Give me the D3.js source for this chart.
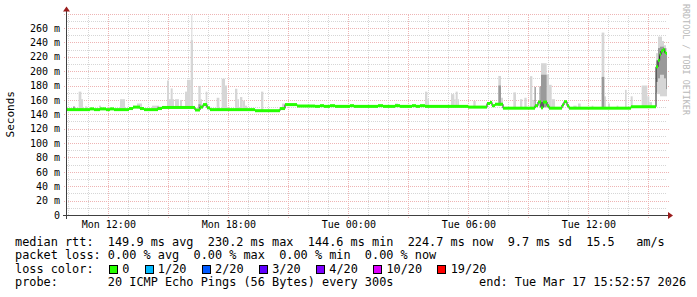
<!DOCTYPE html>
<html>
<head>
<meta charset="utf-8">
<script src="https://cdn.jsdelivr.net/npm/d3@7/dist/d3.min.js"></script>
<style>
	body { margin: 0; background: #fff; }
	svg text { font-family: "DejaVu Sans Mono", monospace; }
</style>
</head>
<body>
<svg></svg>
<script>
// time range of the graph
const startTime = '16 09:56';
const endTime = '17 15:56';

// median rtt (ms), step series
const medianTimes = [
	'16 09:56', '16 11:05', '16 11:17', '16 11:35', '16 11:53', '16 12:05', '16 12:17', '16 13:02',
	'16 13:14', '16 13:35', '16 13:47', '16 14:29', '16 14:41', '16 16:20', '16 16:35', '16 16:44',
	'16 16:56', '16 17:05', '16 19:20', '16 20:35', '16 20:50', '16 21:26', '16 22:20', '16 22:35',
	'16 22:47', '16 23:05', '16 23:20', '17 00:05', '17 00:17', '17 01:29', '17 01:44', '17 02:20',
	'17 02:35', '17 03:11', '17 03:23', '17 03:35', '17 03:50', '17 05:59', '17 06:56', '17 07:05',
	'17 07:11', '17 07:20', '17 07:44', '17 09:20', '17 09:29', '17 09:38', '17 09:44', '17 09:56',
	'17 10:02', '17 10:41', '17 10:47', '17 10:56', '17 11:02', '17 14:08', '17 15:23', '17 15:29',
	'17 15:34', '17 15:38', '17 15:44', '17 15:49', '17 15:53'
];
const medianValues = [
	146.5, 147.5, 146.5, 147.5, 146.5, 147.5, 146.5, 148,
	150, 148, 146.5, 148, 149.5, 146, 150, 153.5,
	149, 146.5, 145, 148, 153.5, 151.5, 151, 152,
	151, 152, 151, 152, 151, 152, 151, 152,
	151, 152, 151, 152, 151, 150, 155, 156.5,
	152, 154, 148.5, 152, 157, 149, 157, 152,
	148.5, 153, 157.5, 152, 148.5, 150.5, 206, 215,
	223, 228, 230, 226, 224.7
];

// light smoke: spread of the pings (start, end, lowest, highest)
const smokeStart = [
	'16 10:31', '16 10:38', '16 10:50', '16 11:32', '16 12:35', '16 13:26', '16 14:11', '16 14:56',
	'16 15:02', '16 15:07', '16 15:20', '16 15:35', '16 15:50', '16 15:56', '16 16:00', '16 16:07',
	'16 16:09', '16 16:30', '16 16:35', '16 16:52', '16 17:25', '16 17:40', '16 17:50', '16 18:20',
	'16 18:27', '16 18:35', '16 18:42', '16 18:50', '16 19:38', '16 20:41', '16 23:33', '17 02:20',
	'17 03:50', '17 03:57', '17 05:08', '17 05:18', '17 05:22', '17 05:28', '17 06:15', '17 07:30',
	'17 07:38', '17 08:15', '17 08:35', '17 08:48', '17 09:05', '17 09:12', '17 09:38', '17 09:55',
	'17 10:02', '17 10:10', '17 11:15', '17 11:29', '17 12:10', '17 12:40', '17 12:48', '17 12:59',
	'17 13:25', '17 13:50', '17 14:07', '17 14:40', '17 14:57', '17 15:03', '17 15:23', '17 15:29',
	'17 15:35', '17 15:41', '17 15:47', '17 15:53'
];
const smokeEnd = [
	'16 10:39', '16 10:44', '16 10:56', '16 11:38', '16 12:50', '16 13:41', '16 14:32', '16 15:02',
	'16 15:17', '16 15:13', '16 15:32', '16 15:41', '16 15:56', '16 16:05', '16 16:07', '16 16:14',
	'16 16:12', '16 16:37', '16 16:41', '16 16:57', '16 17:33', '16 17:50', '16 17:56', '16 18:27',
	'16 18:32', '16 18:42', '16 18:50', '16 18:56', '16 19:45', '16 20:50', '16 23:40', '17 02:29',
	'17 03:57', '17 04:02', '17 05:18', '17 05:22', '17 05:28', '17 05:32', '17 06:22', '17 07:38',
	'17 07:44', '17 08:23', '17 08:42', '17 08:55', '17 09:12', '17 09:17', '17 09:55', '17 10:02',
	'17 10:10', '17 10:20', '17 11:25', '17 11:37', '17 12:15', '17 12:48', '17 12:53', '17 13:05',
	'17 13:30', '17 13:55', '17 14:13', '17 14:57', '17 15:03', '17 15:11', '17 15:29', '17 15:35',
	'17 15:41', '17 15:47', '17 15:53', '17 15:56'
];
const smokeLo = [
	147, 147, 147, 147, 147, 148, 147, 149,
	149, 149, 149, 149, 149, 149, 149, 149,
	149, 148, 150, 150, 147, 147, 147, 147,
	147, 147, 147, 147, 145, 148, 151, 151,
	151, 151, 151, 151, 151, 151, 150, 152,
	152, 148.5, 148.5, 148.5, 148.5, 148.5, 149, 149,
	148.5, 148.5, 148.5, 148.5, 148.5, 148.5, 148.5, 148.5,
	148.5, 148.5, 150, 150, 150, 150, 170, 168,
	165, 165, 165, 165
];
const smokeHi = [
	171.5, 161, 151, 152, 161, 155, 152, 187,
	161, 176, 161, 160, 171.5, 188, 187.7, 243,
	278, 179.4, 161, 171.5, 163, 189.5, 180, 175.5,
	161, 164, 159, 152, 171.5, 155, 153, 155,
	171.5, 161, 168, 161, 171.5, 161, 158.5, 193.3,
	163, 170.5, 161, 163, 193, 160, 211, 195.5,
	181, 161, 152, 155, 152, 253.6, 165, 155,
	152, 174, 165, 180, 165, 157, 225, 248,
	248, 242, 236, 232
];

// dense smoke, where many pings pile up (start, end, low, high)
const denseStart = ['16 10:14', '16 14:26', '16 16:30', '17 07:30', '17 09:18', '17 09:33', '17 09:38', '17 12:40',
	'17 15:23', '17 15:29', '17 15:35', '17 15:41', '17 15:47', '17 15:53'];
const denseEnd = ['16 10:20', '16 14:41', '16 16:37', '17 07:38', '17 09:23', '17 09:38', '17 09:55', '17 12:48',
	'17 15:29', '17 15:35', '17 15:41', '17 15:47', '17 15:53', '17 15:56'];
const denseLo = [147, 147, 148, 152, 150, 150, 150, 148.5, 185, 190, 195, 195, 190, 175];
const denseHi = [151, 150.5, 154, 180, 178, 178.6, 195, 192, 215, 232, 234, 234, 232, 225];

// legend and summary
const lossLabels = ['0', '1/20', '2/20', '3/20', '4/20', '10/20', '19/20'];
const lossColors = ['#26ff00', '#00b8ff', '#0059ff', '#5e00ff', '#7e00ff', '#dd00ff', '#ff0000'];
const summaryLines = [
	'median rtt:  149.9 ms avg  230.2 ms max  144.6 ms min  224.7 ms now  9.7 ms sd  15.5   am/s',
	'packet loss: 0.00 % avg  0.00 % max  0.00 % min  0.00 % now',
	'loss color:',
	'probe:       20 ICMP Echo Pings (56 Bytes) every 300s            end: Tue Mar 17 15:52:57 2026'
];

const parse = d3.timeParse('%Y-%m-%d %H:%M');
const t = s => parse('2026-03-' + s);

const width = 697;
const height = 297;
const plotLeft = 67, plotRight = 667, plotTop = 13.6, plotBottom = 215;

const svg = d3.select('svg')
	.attr('width', width)
	.attr('height', height);

const xScale = d3.scaleTime()
	.domain([t(startTime), t(endTime)])
	.range([plotLeft, plotRight]);

const yScale = d3.scaleLinear()
	.domain([0, 280])
	.range([plotBottom, plotTop]);

const px = v => Math.round(v) + 0.5;

// grid
const grid = svg.append('g').attr('shape-rendering', 'crispEdges');
const minorY = yScale.ticks(28).filter(d => d % 20 !== 0);
const majorY = yScale.ticks(14).filter(d => d > 0);
const minorX = xScale.ticks(d3.timeHour.every(1)).filter(d => d.getHours() % 3 !== 0);
const majorX = xScale.ticks(d3.timeHour.every(3));

grid.selectAll('line.minor-y').data(minorY).enter().append('line')
	.attr('x1', plotLeft).attr('x2', plotRight)
	.attr('y1', d => px(yScale(d))).attr('y2', d => px(yScale(d)))
	.attr('stroke', '#d6d6d6').attr('stroke-dasharray', '1,1');
grid.selectAll('line.minor-x').data(minorX).enter().append('line')
	.attr('y1', plotBottom).attr('y2', plotTop)
	.attr('x1', d => px(xScale(d))).attr('x2', d => px(xScale(d)))
	.attr('stroke', '#d6d6d6').attr('stroke-dasharray', '1,1');
grid.selectAll('line.major-y').data(majorY).enter().append('line')
	.attr('x1', plotLeft - 3).attr('x2', plotRight + 2)
	.attr('y1', d => px(yScale(d))).attr('y2', d => px(yScale(d)))
	.attr('stroke', '#eeb4b4').attr('stroke-dasharray', '1,1');
grid.selectAll('line.major-x').data(majorX).enter().append('line')
	.attr('y1', plotBottom + 3).attr('y2', plotTop)
	.attr('x1', d => px(xScale(d))).attr('x2', d => px(xScale(d)))
	.attr('stroke', '#eeb4b4').attr('stroke-dasharray', '1,1');

// smoke
const smoke = smokeStart.map((s, i) => ({ s: t(s), e: t(smokeEnd[i]), lo: smokeLo[i], hi: smokeHi[i] }));
const dense = denseStart.map((s, i) => ({ s: t(s), e: t(denseEnd[i]), lo: denseLo[i], hi: denseHi[i] }));

svg.append('g').selectAll('rect').data(smoke).enter().append('rect')
	.attr('x', d => xScale(d.s))
	.attr('width', d => xScale(d.e) - xScale(d.s))
	.attr('y', d => yScale(d.hi))
	.attr('height', d => yScale(d.lo) - yScale(d.hi))
	.attr('fill', '#d6d6d6');

svg.append('g').selectAll('rect').data(dense).enter().append('rect')
	.attr('x', d => xScale(d.s))
	.attr('width', d => xScale(d.e) - xScale(d.s))
	.attr('y', d => yScale(d.hi))
	.attr('height', d => yScale(d.lo) - yScale(d.hi))
	.attr('fill', '#707070')
	.attr('opacity', 0.6);

// median line
const median = medianTimes.map((s, i) => ({ time: t(s), value: medianValues[i] }));
const medianStep = median.concat([{ time: t(endTime), value: medianValues[medianValues.length - 1] }]);

svg.append('path')
	.datum(medianStep)
	.attr('fill', 'none')
	.attr('stroke', '#202020')
	.attr('stroke-width', 1)
	.attr('d', d3.line()
		.x(d => xScale(d.time))
		.y(d => yScale(d.value))
		.curve(d3.curveStepAfter));

svg.append('g').selectAll('rect').data(median).enter().append('rect')
	.attr('x', d => xScale(d.time))
	.attr('width', (d, i) => xScale(medianStep[i + 1].time) - xScale(d.time))
	.attr('y', d => yScale(d.value) - 1.5)
	.attr('height', 3)
	.attr('fill', lossColors[0]);

// axes
const axisG = svg.append('g').attr('shape-rendering', 'crispEdges');
axisG.append('line')
	.attr('x1', plotLeft - 4).attr('x2', plotRight + 2)
	.attr('y1', px(plotBottom)).attr('y2', px(plotBottom))
	.attr('stroke', '#404040');
axisG.append('line')
	.attr('x1', px(plotLeft - 1)).attr('x2', px(plotLeft - 1))
	.attr('y1', plotBottom + 4).attr('y2', plotTop - 3)
	.attr('stroke', '#404040');
svg.append('path')
	.attr('d', `M${plotRight + 1},${plotBottom - 3}L${plotRight + 6},${plotBottom + 0.5}L${plotRight + 1},${plotBottom + 4}Z`)
	.attr('fill', '#9a1c1c');
svg.append('path')
	.attr('d', `M${plotLeft - 4},${plotTop - 2}L${plotLeft - 0.5},${plotTop - 7}L${plotLeft + 3},${plotTop - 2}Z`)
	.attr('fill', '#9a1c1c');

const xAxis = d3.axisBottom(xScale)
	.tickValues(xScale.ticks(d3.timeHour.every(6)))
	.tickFormat(d3.timeFormat('%a %H:%M'))
	.tickSize(0)
	.tickPadding(6);

const yAxis = d3.axisLeft(yScale)
	.tickValues(yScale.ticks(14).filter(d => d < 280))
	.tickFormat(d => d === 0 ? '0' : d + ' m')
	.tickSize(0)
	.tickPadding(7);

const xAxisGroup = svg.append('g')
	.attr('transform', `translate(0,${plotBottom})`)
	.call(xAxis);
xAxisGroup.select('.domain').remove();
xAxisGroup.selectAll('text')
	.attr('font-family', '"DejaVu Sans Mono", monospace')
	.attr('font-size', 10)
	.attr('fill', '#000');

const yAxisGroup = svg.append('g')
	.attr('transform', `translate(${plotLeft},0)`)
	.call(yAxis);
yAxisGroup.select('.domain').remove();
yAxisGroup.selectAll('text')
	.attr('font-family', '"DejaVu Sans Mono", monospace')
	.attr('font-size', 10)
	.attr('fill', '#000');

svg.append('text')
	.attr('transform', `translate(14,${(plotTop + plotBottom) / 2}) rotate(-90)`)
	.attr('text-anchor', 'middle')
	.attr('font-size', 11)
	.text('Seconds');

svg.append('text')
	.attr('transform', 'translate(683,4) rotate(90)')
	.attr('font-size', 8.4)
	.attr('fill', '#b8b8b8')
	.text('RRDTOOL / TOBI OETIKER');

// summary text
const charW = 7.143;
const textX = 15;
const rowY = [245.5, 259, 272.5, 286];

svg.append('g').selectAll('text').data(summaryLines).enter().append('text')
	.attr('x', textX)
	.attr('y', (d, i) => rowY[i])
	.attr('font-size', 11.86)
	.style('white-space', 'pre')
	.text(d => d);

// loss colour legend
let col = 13;
const legend = lossLabels.map((label, i) => {
	const item = { label, color: lossColors[i], col };
	col += label.length + 4;
	return item;
});
const legendG = svg.append('g');
legendG.selectAll('rect').data(legend).enter().append('rect')
	.attr('x', d => Math.round(textX + d.col * charW) + 1.5)
	.attr('y', 265.5)
	.attr('width', 8)
	.attr('height', 8)
	.attr('fill', d => d.color)
	.attr('stroke', '#000');
legendG.selectAll('text').data(legend).enter().append('text')
	.attr('x', d => textX + (d.col + 2) * charW)
	.attr('y', rowY[2])
	.attr('font-size', 11.86)
	.text(d => d.label);
</script>
</body>
</html>
